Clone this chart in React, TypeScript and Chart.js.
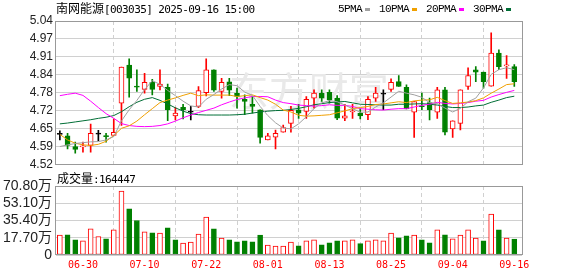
import React, { useEffect, useRef } from "react";
import { Chart, registerables } from "chart.js";

Chart.register(...registerables);

// ---------- data ----------
const stockName = "南网能源";
const stockCode = "[003035] 2025-09-16 15:00";
const volumeCaption = "成交量";
const volumeLatest = ":164447";
const watermark = "东方财富";

const dates = [
  "06-25", "06-26", "06-27", "06-30", "07-01", "07-02", "07-03", "07-04", "07-07", "07-08",
  "07-09", "07-10", "07-11", "07-14", "07-15", "07-16", "07-17", "07-18", "07-21", "07-22",
  "07-23", "07-24", "07-25", "07-28", "07-29", "07-30", "07-31", "08-01", "08-04", "08-05",
  "08-06", "08-07", "08-08", "08-11", "08-12", "08-13", "08-14", "08-15", "08-18", "08-19",
  "08-20", "08-21", "08-22", "08-25", "08-26", "08-27", "08-28", "08-29", "09-01", "09-02",
  "09-03", "09-04", "09-05", "09-08", "09-09", "09-10", "09-11", "09-12", "09-15", "09-16",
];
const labelledDays = [3, 11, 19, 27, 35, 43, 51, 59];

const opens = [
  4.630, 4.625, 4.586, 4.585, 4.590, 4.631, 4.624, 4.626, 4.743, 4.881,
  4.803, 4.793, 4.818, 4.803, 4.800, 4.697, 4.728, 4.710, 4.731, 4.781,
  4.863, 4.785, 4.820, 4.779, 4.757, 4.739, 4.719, 4.610, 4.620, 4.638,
  4.670, 4.719, 4.713, 4.761, 4.779, 4.782, 4.761, 4.689, 4.711, 4.707,
  4.701, 4.761, 4.775, 4.793, 4.821, 4.800, 4.710, 4.732, 4.745, 4.710,
  4.791, 4.650, 4.670, 4.803, 4.863, 4.855, 4.804, 4.924, 4.878, 4.875,
];
const highs = [
  4.643, 4.634, 4.602, 4.602, 4.667, 4.645, 4.634, 4.686, 4.873, 4.903,
  4.863, 4.851, 4.829, 4.863, 4.812, 4.727, 4.739, 4.731, 4.803, 4.903,
  4.863, 4.833, 4.833, 4.797, 4.773, 4.767, 4.719, 4.634, 4.646, 4.664,
  4.731, 4.739, 4.767, 4.791, 4.791, 4.791, 4.770, 4.739, 4.739, 4.722,
  4.767, 4.800, 4.791, 4.831, 4.843, 4.809, 4.749, 4.779, 4.761, 4.800,
  4.800, 4.679, 4.791, 4.871, 4.875, 4.855, 4.997, 4.936, 4.915, 4.882,
];
const lows = [
  4.610, 4.577, 4.562, 4.566, 4.566, 4.607, 4.602, 4.626, 4.662, 4.765,
  4.785, 4.779, 4.773, 4.791, 4.680, 4.682, 4.686, 4.682, 4.727, 4.769,
  4.785, 4.761, 4.770, 4.725, 4.701, 4.707, 4.598, 4.610, 4.577, 4.638,
  4.638, 4.688, 4.688, 4.725, 4.749, 4.743, 4.683, 4.680, 4.688, 4.686,
  4.683, 4.749, 4.719, 4.785, 4.803, 4.722, 4.619, 4.719, 4.682, 4.688,
  4.628, 4.619, 4.646, 4.793, 4.821, 4.797, 4.804, 4.864, 4.832, 4.803,
];
const closes = [
  4.630, 4.590, 4.576, 4.587, 4.634, 4.631, 4.622, 4.637, 4.873, 4.833,
  4.801, 4.818, 4.793, 4.812, 4.719, 4.707, 4.719, 4.710, 4.788, 4.863,
  4.790, 4.818, 4.790, 4.767, 4.749, 4.731, 4.619, 4.625, 4.634, 4.655,
  4.717, 4.707, 4.757, 4.779, 4.761, 4.755, 4.689, 4.697, 4.713, 4.697,
  4.757, 4.779, 4.775, 4.818, 4.803, 4.722, 4.749, 4.730, 4.719, 4.791,
  4.638, 4.679, 4.791, 4.843, 4.855, 4.821, 4.924, 4.875, 4.880, 4.821,
];

const ma5 = [
  4.586, 4.592, 4.597, 4.600, 4.603, 4.604, 4.610, 4.622, 4.679, 4.719,
  4.753, 4.792, 4.824, 4.811, 4.789, 4.770, 4.750, 4.733, 4.729, 4.757,
  4.774, 4.794, 4.810, 4.806, 4.783, 4.771, 4.731, 4.698, 4.672, 4.653,
  4.650, 4.668, 4.694, 4.723, 4.744, 4.752, 4.748, 4.736, 4.723, 4.710,
  4.711, 4.729, 4.744, 4.765, 4.786, 4.779, 4.773, 4.764, 4.745, 4.742,
  4.725, 4.711, 4.724, 4.748, 4.761, 4.798, 4.847, 4.864, 4.871, 4.864,
];
const ma10 = [
  4.630, 4.610, 4.598, 4.592, 4.590, 4.594, 4.605, 4.626, 4.652, 4.661,
  4.678, 4.701, 4.723, 4.745, 4.754, 4.762, 4.771, 4.779, 4.770, 4.773,
  4.772, 4.772, 4.772, 4.767, 4.770, 4.773, 4.763, 4.754, 4.739, 4.718,
  4.711, 4.699, 4.696, 4.697, 4.699, 4.701, 4.708, 4.715, 4.723, 4.727,
  4.731, 4.738, 4.740, 4.744, 4.748, 4.745, 4.751, 4.754, 4.755, 4.764,
  4.752, 4.742, 4.744, 4.747, 4.752, 4.762, 4.779, 4.794, 4.810, 4.813,
];
const ma20 = [
  4.770, 4.775, 4.779, 4.771, 4.750, 4.727, 4.705, 4.688, 4.669, 4.662,
  4.659, 4.658, 4.659, 4.662, 4.668, 4.678, 4.690, 4.700, 4.709, 4.717,
  4.725, 4.737, 4.747, 4.756, 4.762, 4.767, 4.767, 4.766, 4.754, 4.745,
  4.741, 4.736, 4.734, 4.732, 4.734, 4.737, 4.735, 4.735, 4.731, 4.723,
  4.721, 4.719, 4.718, 4.721, 4.723, 4.723, 4.729, 4.735, 4.739, 4.746,
  4.742, 4.740, 4.742, 4.745, 4.750, 4.753, 4.765, 4.774, 4.782, 4.789,
];
const ma30 = [
  4.668, 4.671, 4.675, 4.679, 4.683, 4.688, 4.692, 4.698, 4.712, 4.730,
  4.746, 4.757, 4.763, 4.753, 4.740, 4.726, 4.714, 4.705, 4.701, 4.700,
  4.700, 4.700, 4.700, 4.701, 4.703, 4.707, 4.711, 4.714, 4.716, 4.717,
  4.720, 4.724, 4.730, 4.737, 4.741, 4.745, 4.747, 4.749, 4.744, 4.739,
  4.738, 4.737, 4.736, 4.736, 4.739, 4.739, 4.740, 4.741, 4.739, 4.736,
  4.731, 4.727, 4.727, 4.729, 4.733, 4.736, 4.746, 4.754, 4.763, 4.768,
];

const volumes = [
  204000, 207000, 156000, 146000, 269000, 190000, 167000, 258000, 657000, 473000,
  354000, 238000, 228000, 225000, 279000, 156000, 123000, 133000, 214000, 388000,
  269000, 174000, 156000, 136000, 146000, 136000, 204000, 102000, 92000, 92000,
  133000, 95000, 146000, 156000, 105000, 126000, 146000, 146000, 156000, 116000,
  146000, 156000, 146000, 225000, 177000, 197000, 204000, 156000, 126000, 258000,
  207000, 167000, 204000, 258000, 174000, 146000, 419000, 258000, 174000, 164447,
];
const volumeUp = [
  1, 0, 0, 1, 1, 1, 0, 1, 1, 0,
  0, 1, 0, 1, 0, 0, 1, 1, 1, 1,
  0, 1, 0, 0, 0, 0, 0, 1, 1, 1,
  1, 0, 1, 1, 0, 0, 0, 1, 1, 0,
  1, 1, 1, 1, 0, 0, 1, 0, 0, 1,
  0, 1, 1, 1, 1, 0, 1, 0, 1, 0,
];

const priceTicks = [4.52, 4.585, 4.65, 4.715, 4.78, 4.845, 4.91, 4.975, 5.04];
const priceTickLabels = ["4.52", "4.59", "4.65", "4.72", "4.78", "4.84", "4.91", "4.97", "5.04"];
const volumeTicks = [0, 177000, 354000, 531000, 708000];
const volumeTickLabels = ["0", "17.70万", "35.40万", "53.10万", "70.80万"];

const maNames = ["5PMA", "10PMA", "20PMA", "30PMA"];
const maSeries = [ma5, ma10, ma20, ma30];

// ---------- styles ----------
const RED = "#ff0000";
const GREEN = "#008000";
const DOJI = "#000000";
const maColors = ["#a0a0a0", "#f0a000", "#ff00ff", "#006e36"];
const GRID = "#d0d0d0";
const FRAME = "#999999";
const SANS = "'Liberation Sans', Arial, 'Noto Sans CJK SC', sans-serif";
const MONO = "'DejaVu Sans Mono', 'Noto Sans CJK SC', monospace";
const CJK = "'Noto Sans CJK SC', sans-serif";

const candleColor = (i: number) =>
  closes[i] > opens[i] ? RED : closes[i] < opens[i] ? GREEN : DOJI;

const framePlugin = {
  id: "frame",
  afterDraw(chart: any) {
    const { left, top, right, bottom } = chart.chartArea;
    const ctx = chart.ctx;
    ctx.save();
    ctx.strokeStyle = FRAME;
    ctx.lineWidth = 1;
    ctx.strokeRect(Math.round(left) - 0.5, Math.round(top) + 0.5, Math.round(right - left) + 1, Math.round(bottom - top) - 1);
    ctx.restore();
  },
};

const watermarkPlugin = {
  id: "watermark",
  beforeDatasetsDraw(chart: any) {
    const ctx = chart.ctx;
    const xs = chart.scales.x;
    const ys = chart.scales.y;
    ctx.save();
    ctx.fillStyle = "#e9e9e9";
    ctx.font = "40px " + CJK;
    ctx.textAlign = "center";
    ctx.textBaseline = "middle";
    ctx.fillText(watermark, xs.getPixelForValue(32.3), ys.getPixelForValue(4.787));
    ctx.restore();
  },
};

const xGridCommon = {
  color: GRID,
  drawTicks: false,
  lineWidth: 1,
  borderDash: [4, 3],
};

export default function App() {
  const priceRef = useRef<HTMLCanvasElement>(null);
  const volRef = useRef<HTMLCanvasElement>(null);

  useEffect(() => {
    const wickData = lows.map((l, i) => ({ x: i, y: [l, highs[i]] }));
    const bodyData = opens.map((o, i) => ({ x: i, y: [o, closes[i]] }));
    const colors = opens.map((_, i) => candleColor(i));

    const lineSets = maSeries.map((s, k) => ({
      type: "line" as const,
      label: maNames[k],
      data: s.map((v, i) => ({ x: i, y: v })),
      borderColor: maColors[k],
      borderWidth: 1,
      pointRadius: 0,
      tension: 0,
      order: 0,
    }));

    const price = new Chart(priceRef.current as HTMLCanvasElement, {
      type: "bar",
      data: {
        datasets: [
          ...lineSets,
          {
            type: "bar",
            label: "body",
            data: bodyData as any,
            backgroundColor: opens.map((o, i) => (closes[i] > o ? "#ffffff" : colors[i])),
            borderColor: colors,
            borderWidth: 1,
            borderSkipped: false,
            barThickness: 5,
            minBarLength: 1,
            grouped: false,
            order: 1,
          } as any,
          {
            type: "bar",
            label: "wick",
            data: wickData as any,
            backgroundColor: colors,
            borderWidth: 0,
            barThickness: 1,
            grouped: false,
            order: 2,
          } as any,
        ],
      },
      options: {
        responsive: false,
        maintainAspectRatio: false,
        animation: false,
        events: [],
        layout: { padding: { top: 21, right: 56, bottom: 10, left: 0 } },
        plugins: { legend: { display: false }, tooltip: { enabled: false } },
        scales: {
          x: {
            type: "linear",
            min: -0.5,
            max: 60,
            offset: false,
            grid: xGridCommon as any,
            border: { display: true, color: "rgba(0,0,0,0)", dash: [4, 3] },
            ticks: { display: false },
            afterBuildTicks: (axis: any) => {
              axis.ticks = labelledDays.map((v) => ({ value: v }));
            },
            afterFit: (s: any) => {
              s.height = 0;
            },
          },
          y: {
            type: "linear",
            min: priceTicks[0],
            max: priceTicks[priceTicks.length - 1],
            grid: { color: GRID, drawTicks: false },
            border: { display: false },
            ticks: {
              autoSkip: false,
              padding: 3,
              color: "#222",
              font: { family: SANS, size: 12 },
              callback: (_v: any, idx: number) => priceTickLabels[idx],
            },
            afterBuildTicks: (axis: any) => {
              axis.ticks = priceTicks.map((v) => ({ value: v }));
            },
            afterFit: (s: any) => {
              s.width = 56;
            },
          },
        },
      } as any,
      plugins: [watermarkPlugin, framePlugin],
    });

    const vol = new Chart(volRef.current as HTMLCanvasElement, {
      type: "bar",
      data: {
        datasets: [
          {
            label: "volume",
            data: volumes.map((v, i) => ({ x: i, y: v })) as any,
            backgroundColor: volumeUp.map((u) => (u ? "#ffffff" : GREEN)),
            borderColor: volumeUp.map((u) => (u ? RED : GREEN)),
            borderWidth: 1,
            borderSkipped: false,
            barThickness: 5,
            grouped: false,
          } as any,
        ],
      },
      options: {
        responsive: false,
        maintainAspectRatio: false,
        animation: false,
        events: [],
        layout: { padding: { top: 11, right: 56, bottom: 0, left: 0 } },
        plugins: { legend: { display: false }, tooltip: { enabled: false } },
        scales: {
          x: {
            type: "linear",
            min: -0.5,
            max: 60,
            offset: false,
            grid: xGridCommon as any,
            border: { display: true, color: "rgba(0,0,0,0)", dash: [4, 3] },
            ticks: {
              autoSkip: false,
              maxRotation: 0,
              padding: 4,
              color: RED,
              font: { family: MONO, size: 10 },
              callback: (v: any) => dates[Math.round(Number(v))],
            },
            afterBuildTicks: (axis: any) => {
              axis.ticks = labelledDays.map((v) => ({ value: v }));
            },
            afterFit: (s: any) => {
              s.height = 21;
            },
          },
          y: {
            type: "linear",
            min: volumeTicks[0],
            max: volumeTicks[volumeTicks.length - 1],
            grid: { color: GRID, drawTicks: false },
            border: { display: false },
            ticks: {
              autoSkip: false,
              padding: 4,
              color: "#222",
              font: { family: SANS, size: 14, lineHeight: 1 },
              callback: (_v: any, idx: number) => volumeTickLabels[idx],
            },
            afterBuildTicks: (axis: any) => {
              axis.ticks = volumeTicks.map((v) => ({ value: v }));
            },
            afterFit: (s: any) => {
              s.width = 56;
            },
          },
        },
      } as any,
      plugins: [framePlugin],
    });

    return () => {
      price.destroy();
      vol.destroy();
    };
  }, []);

  const monoText: React.CSSProperties = {
    fontFamily: MONO,
    fontSize: 11,
    letterSpacing: "-0.6px",
  };
  const cjkText: React.CSSProperties = { fontFamily: CJK, fontSize: 12 };

  return (
    <div
      style={{
        position: "absolute",
        left: 0,
        top: 0,
        width: 578,
        height: 276,
        background: "#ffffff",
        overflow: "hidden",
      }}
    >
      <canvas ref={priceRef} width={578} height={175} style={{ position: "absolute", left: 0, top: 0 }} />
      <canvas ref={volRef} width={578} height={101} style={{ position: "absolute", left: 0, top: 175 }} />

      <div style={{ position: "absolute", left: 56, top: 2, lineHeight: "12px", whiteSpace: "nowrap", color: "#000" }}>
        <span style={cjkText}>{stockName}</span>
        <span style={monoText}>{stockCode}</span>
      </div>

      <div
        style={{
          position: "absolute",
          left: 338,
          top: 3,
          lineHeight: "12px",
          display: "flex",
          alignItems: "center",
          whiteSpace: "nowrap",
          color: "#000",
        }}
      >
        {maNames.map((n, k) => (
          <React.Fragment key={n}>
            <span style={{ fontFamily: "'Liberation Mono', monospace", fontSize: 11, letterSpacing: "-0.6px" }}>{n}</span>
            <span
              style={{
                display: "inline-block",
                width: 5,
                height: 3,
                background: maColors[k],
                marginLeft: 3,
                marginRight: 9,
              }}
            />
          </React.Fragment>
        ))}
      </div>

      <div style={{ position: "absolute", left: 57, top: 172, lineHeight: "12px", whiteSpace: "nowrap", color: "#000" }}>
        <span style={cjkText}>{volumeCaption}</span>
        <span style={monoText}>{volumeLatest}</span>
      </div>
    </div>
  );
}
